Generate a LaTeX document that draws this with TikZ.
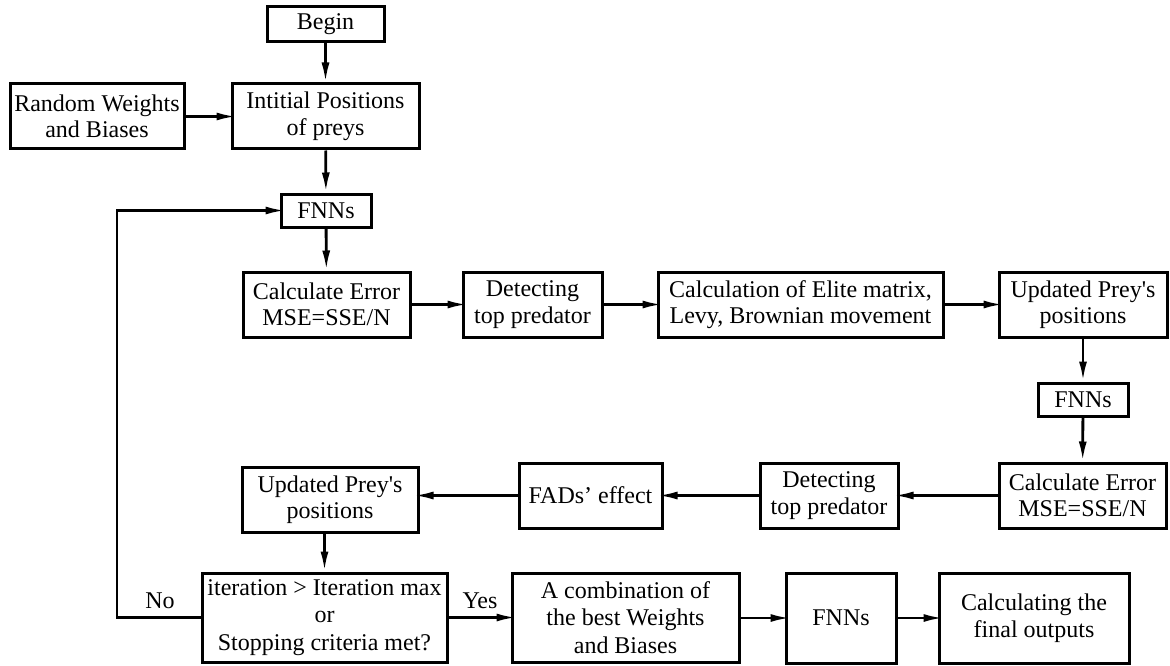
\documentclass[tikz,border=0pt]{standalone}
\usepackage{fontspec}
\setmainfont{Liberation Serif}[Ligatures=TeXOff]
\usetikzlibrary{arrows.meta}
\begin{document}
\begin{tikzpicture}[x=1pt,y=-1pt,
  box/.style={draw,line width=3pt,inner sep=0pt,align=center,
    font=\fontsize{24}{26.5}\selectfont},
  conn/.style={line width=2.8pt,-{Latex[length=20pt,width=8pt]}},
  hconn/.style={conn,shorten >=-6pt},
  lbl/.style={font=\fontsize{24}{26.5}\selectfont,inner sep=0pt}]
\path[use as bounding box,fill=white] (0,0) rectangle (1170,666);
\node[box,minimum width=117,minimum height=35] (begin) at (325.5,24.5) {Begin};
\node[box,minimum width=174,minimum height=65] (rand) at (97,116.5) {Random Weights\\and Biases};
\node[box,minimum width=187,minimum height=65] (init) at (325.5,116.5) {Intitial Positions\\of preys};
\node[box,minimum width=90,minimum height=33] (fnn1) at (326,210.5) {FNNs};
\node[box,minimum width=167,minimum height=65] (ce1) at (326.5,304.5) {Calculate Error\\MSE=SSE/N};
\node[box,minimum width=139,minimum height=65] (det1) at (532.5,304.5) {Detecting\\top predator};
\node[box,minimum width=285,minimum height=65] (elite) at (800.5,304.5) {Calculation of Elite matrix,\\Levy, Brownian movement};
\node[box,minimum width=168,minimum height=65] (upd1) at (1083,304.5) {Updated Prey's\\positions};
\node[box,minimum width=90,minimum height=33] (fnn2) at (1083,399.5) {FNNs};
\node[box,minimum width=167,minimum height=65] (ce2) at (1082.5,495.5) {Calculate Error\\MSE=SSE/N};
\node[box,minimum width=138,minimum height=65] (det2) at (829,495.5) {Detecting\\top predator};
\node[box,minimum width=143,minimum height=65] (fads) at (590.5,495.5) {FADs’ effect};
\node[box,minimum width=176,minimum height=65] (upd2) at (330,499.5) {Updated Prey's\\positions};
\node[box,minimum width=245,minimum height=89,font=\fontsize{24}{27.5}\selectfont] (dec) at (324.5,617.5) {iteration > Iteration max\\or\\Stopping criteria met?};
\node[box,minimum width=227,minimum height=89,font=\fontsize{24}{27.5}\selectfont] (comb) at (625.5,617.5) {A combination of\\the best Weights\\and Biases};
\node[box,minimum width=110,minimum height=90] (fnn3) at (841,618) {FNNs};
\node[box,minimum width=190,minimum height=90] (final) at (1034,618) {Calculating the\\final outputs};
\coordinate (loopA) at (117,617.5);
\coordinate (loopB) at (117,210.5);
\draw[conn] (begin) -- (init);
\draw[hconn] (rand) -- (init);
\draw[conn] (init) -- (fnn1);
\draw[conn] (fnn1) -- (ce1);
\draw[hconn] (ce1) -- (det1);
\draw[hconn] (det1) -- (elite);
\draw[hconn] (elite) -- (upd1);
\draw[conn] (upd1) -- (fnn2);
\draw[conn] (fnn2) -- (ce2);
\draw[hconn] (ce2) -- (det2);
\draw[hconn] (det2) -- (fads);
\draw[hconn] (fads) -- (fads -| upd2.east);
\draw[conn] (dec.north |- upd2.south) -- (dec.north);
\draw[hconn] (dec.west) -- (loopA) -- (loopB) -- (fnn1.west);
\draw[hconn] (dec.east) -- (comb.west);
\draw[hconn] (comb.east |- fnn3) -- (fnn3);
\draw[hconn] (fnn3) -- (final);
\node[lbl,anchor=base] (no) at (160,608) {No};
\node[lbl,anchor=base] (yes) at (480,608) {Yes};
\end{tikzpicture}
\end{document}
